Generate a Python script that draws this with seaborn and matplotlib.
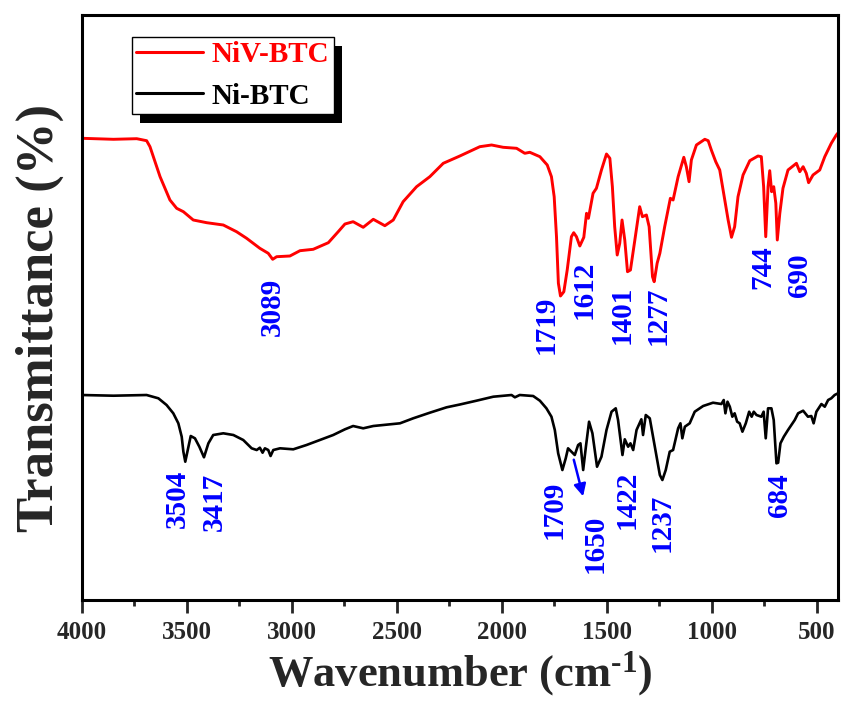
import numpy as np
import pandas as pd
import matplotlib
matplotlib.use("Agg")
import matplotlib.pyplot as plt
from matplotlib.patches import Rectangle
from matplotlib.ticker import MultipleLocator
import seaborn as sns

# ---------------- data ----------------
niv_wn = [4000, 3849, 3738, 3691, 3675, 3627, 3580, 3548, 3516, 3469, 3405, 3326, 3263, 3215,
          3152, 3112, 3091, 3072, 3009, 2961, 2898, 2826, 2779, 2747, 2708, 2660, 2612, 2557,
          2517, 2470, 2406, 2343, 2279, 2200, 2105, 2049, 1994, 1930, 1891, 1867, 1819, 1784,
          1764, 1751, 1740, 1731, 1721, 1705, 1689, 1669, 1658, 1645, 1629, 1610, 1597, 1588,
          1566, 1550, 1526, 1502, 1486, 1474, 1463, 1451, 1439, 1428, 1415, 1402, 1388, 1367,
          1344, 1331, 1312, 1299, 1283, 1275, 1261, 1248, 1225, 1198, 1185, 1161, 1134, 1122,
          1109, 1098, 1074, 1034, 1018, 1003, 982, 963, 939, 923, 907, 892, 876, 852, 820, 781,
          765, 754, 744, 733, 725, 716, 706, 696, 689, 677, 662, 638, 614, 598, 582, 566, 551,
          540, 519, 487, 463, 432, 408, 400]
niv_t = [461.7, 460.7, 461.3, 459.3, 453.3, 423.3, 400.0, 391.7, 388.3, 380.0, 377.3, 375.0,
         368.3, 361.7, 351.7, 346.7, 340.7, 343.3, 344.0, 349.3, 350.7, 357.3, 368.3, 376.0,
         378.3, 372.7, 380.7, 374.3, 380.0, 398.3, 413.3, 423.3, 436.7, 444.0, 453.3, 455.0,
         452.7, 451.7, 446.7, 447.7, 443.3, 435.0, 423.3, 403.3, 363.3, 316.7, 304.0, 308.3,
         330.0, 363.3, 367.3, 363.3, 354.0, 362.7, 386.7, 381.7, 406.7, 411.7, 430.0, 446.0,
         441.7, 413.3, 373.3, 345.0, 356.7, 380.0, 360.0, 328.3, 330.0, 360.0, 393.3, 383.3,
         385.0, 373.3, 323.3, 318.3, 336.7, 346.7, 373.3, 401.7, 400.0, 423.3, 442.7, 433.3,
         418.3, 440.0, 455.0, 460.7, 459.3, 450.0, 438.3, 430.0, 400.0, 380.0, 362.7, 373.3,
         403.3, 425.0, 439.3, 444.0, 443.3, 413.3, 363.3, 413.3, 429.3, 408.3, 413.3, 396.7,
         360.0, 386.7, 411.7, 430.0, 434.0, 436.7, 428.3, 433.3, 426.7, 417.3, 425.0, 430.0,
         443.3, 456.7, 465.0, 467.0]

ni_wn = [4000, 3849, 3691, 3635, 3596, 3564, 3540, 3524, 3516, 3507, 3497, 3481, 3461, 3440,
         3418, 3397, 3374, 3326, 3278, 3231, 3191, 3167, 3152, 3139, 3128, 3112, 3101, 3088,
         3056, 2993, 2930, 2866, 2803, 2747, 2708, 2660, 2612, 2485, 2422, 2343, 2263, 2200,
         2121, 2041, 1954, 1938, 1915, 1851, 1819, 1788, 1764, 1748, 1732, 1712, 1696, 1685,
         1669, 1653, 1637, 1626, 1613, 1600, 1585, 1569, 1547, 1526, 1502, 1478, 1458, 1447,
         1426, 1415, 1399, 1388, 1375, 1359, 1336, 1328, 1315, 1296, 1272, 1248, 1236, 1220,
         1201, 1185, 1161, 1150, 1141, 1129, 1106, 1082, 1042, 995, 955, 944, 936, 926, 915,
         903, 892, 880, 868, 855, 839, 823, 811, 801, 788, 765, 754, 744, 733, 717, 706, 693,
         685, 674, 658, 638, 622, 606, 590, 566, 543, 527, 516, 503, 479, 463, 447, 432, 416,
         400]
ni_t = [205.0, 204.3, 205.0, 201.7, 195.0, 186.7, 176.7, 163.3, 148.3, 138.3, 148.3, 164.0,
        161.7, 153.3, 142.7, 156.7, 165.0, 166.7, 165.0, 160.0, 151.7, 150.0, 152.3, 147.3,
        151.7, 150.0, 144.0, 150.0, 151.7, 150.7, 155.0, 160.0, 165.0, 170.7, 174.0, 171.7,
        174.0, 176.7, 181.7, 187.3, 192.7, 195.5, 199.3, 203.3, 205.0, 202.7, 205.0, 204.0,
        199.3, 191.7, 183.3, 170.0, 146.7, 130.0, 141.7, 151.7, 148.3, 145.0, 155.0, 156.7,
        130.0, 153.3, 178.3, 166.7, 133.3, 143.3, 170.0, 188.3, 191.7, 180.0, 145.0, 160.7,
        153.3, 156.7, 150.0, 170.0, 180.7, 165.0, 185.0, 181.7, 153.3, 125.0, 120.0, 130.0,
        148.3, 150.0, 171.7, 176.7, 161.7, 173.3, 176.7, 188.3, 194.0, 197.3, 196.0, 200.0,
        186.7, 198.3, 193.3, 183.3, 186.7, 178.3, 176.7, 168.3, 176.7, 188.3, 183.3, 188.3,
        185.0, 183.3, 188.3, 161.7, 191.7, 191.7, 180.0, 136.7, 137.3, 156.7, 163.3, 170.0,
        175.0, 180.0, 186.7, 189.3, 183.3, 184.0, 176.7, 188.3, 196.0, 193.3, 200.0, 201.7,
        205.0, 206.7]

series_names = ["NiV-BTC", "Ni-BTC"]

niv_labels = ["3089", "1719", "1612", "1401", "1277", "744", "690"]
niv_label_x = [3095, 1791, 1610, 1429, 1258, 758, 582]
niv_label_y = [293, 275, 310, 285, 284, 333, 325]

ni_labels = ["3504", "3417", "1709", "1650", "1422", "1237", "684"]
ni_label_x = [3546, 3370, 1752, 1557, 1405, 1239, 678]
ni_label_y = [101, 98, 90, 56, 100, 77, 105]

arrow_from = (1661, 143)
arrow_to = (1610, 101)

x_ticks = [4000, 3500, 3000, 2500, 2000, 1500, 1000, 500]

# ---------------- style ----------------
sns.set_style("ticks")
plt.rcParams["font.family"] = ["Liberation Serif", "DejaVu Serif"]
plt.rcParams["font.weight"] = "bold"
plt.rcParams["mathtext.fontset"] = "custom"
plt.rcParams["mathtext.rm"] = "Liberation Serif:bold"
plt.rcParams["mathtext.bf"] = "Liberation Serif:bold"
plt.rcParams["mathtext.it"] = "Liberation Serif:bold"

df = pd.concat([
    pd.DataFrame({"wn": niv_wn, "T": niv_t, "sample": series_names[0]}),
    pd.DataFrame({"wn": ni_wn, "T": ni_t, "sample": series_names[1]}),
])

fig = plt.figure(figsize=(8.44, 7.04), dpi=100)
ax = fig.add_axes([0.0968, 0.1477, 0.8961, 0.8303])

sns.lineplot(data=df[df["sample"] == series_names[0]], x="wn", y="T", color="#ff0000",
             lw=2.1, estimator=None, sort=False, ax=ax, label=series_names[0])
sns.lineplot(data=df[df["sample"] == series_names[1]], x="wn", y="T", color="black",
             lw=1.9, estimator=None, sort=False, ax=ax, label=series_names[1])

ax.set_xlim(4000, 400)
ax.set_ylim(0, 584.5)
ax.set_xticks(x_ticks)
ax.xaxis.set_minor_locator(MultipleLocator(250))
ax.set_yticks([])
ax.tick_params(axis="x", which="major", direction="out", length=9, width=2, labelsize=18, pad=6)
ax.tick_params(axis="x", which="minor", direction="out", length=4.5, width=2)
for lab in ax.get_xticklabels():
    lab.set_fontweight("bold")
for sp in ax.spines.values():
    sp.set_linewidth(2.2)
    sp.set_color("black")

ax.set_xlabel(r"Wavenumber (cm$^{\text{-1}}$)", fontsize=32, fontweight="bold")
ax.set_ylabel("Transmittance (%)", fontsize=38, fontweight="bold")
ax.xaxis.set_label_coords(0.5, -0.0845)
ax.yaxis.set_label_coords(-0.0234, 0.482)

for t, xx, yy in zip(niv_labels, niv_label_x, niv_label_y):
    ax.text(xx, yy, t, rotation=90, ha="center", va="center", color="#0000ff",
            fontsize=21, fontweight="bold")
for t, xx, yy in zip(ni_labels, ni_label_x, ni_label_y):
    ax.text(xx, yy, t, rotation=90, ha="center", va="center", color="#0000ff",
            fontsize=21, fontweight="bold")
ax.annotate("", xy=arrow_to, xytext=arrow_from,
            arrowprops=dict(arrowstyle="-|>", color="#0000ff", lw=1.8, mutation_scale=18))

leg = ax.legend(loc="upper left", bbox_to_anchor=(0.066, 0.9637), borderaxespad=0,
                fancybox=False, frameon=True, edgecolor="black", framealpha=1,
                prop={"family": "Liberation Serif", "weight": "bold", "size": 21},
                handlelength=2.3, handletextpad=0.3, borderpad=0.15, labelspacing=0.5)
leg.get_frame().set_linewidth(1.0)
for txt, c in zip(leg.get_texts(), ["#ff0000", "black"]):
    txt.set_color(c)
for ln in leg.get_lines():
    ln.set_linewidth(2.2)

# shadow behind the legend box
fig.canvas.draw()
bb = leg.get_frame().get_window_extent()
inv = ax.transAxes.inverted()
(x0, y0) = inv.transform((bb.x0 + 8, bb.y0 - 9))
(x1, y1) = inv.transform((bb.x1 + 8, bb.y1 - 9))
ax.add_artist(Rectangle((x0, y0), x1 - x0, y1 - y0, transform=ax.transAxes,
                        facecolor="black", edgecolor="none", zorder=4.5, clip_on=False))

fig.savefig("out.png", dpi=100)
